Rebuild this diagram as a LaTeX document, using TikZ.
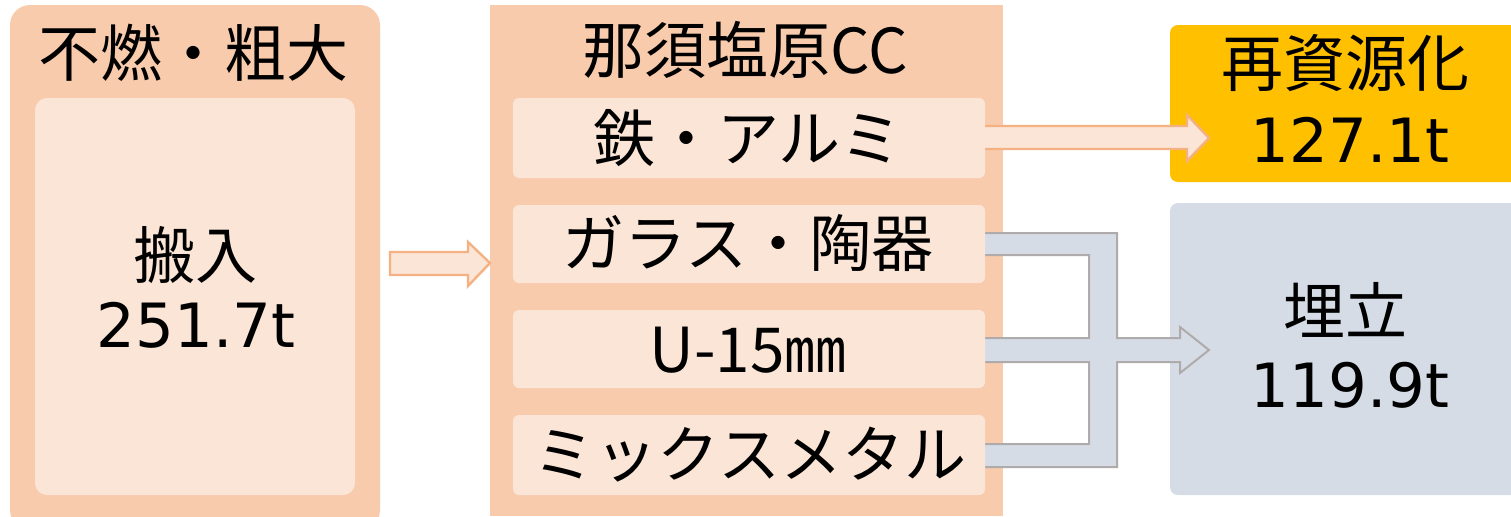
\documentclass[tikz,border=0pt]{standalone}
\usepackage{fontspec}
\newfontfamily\jp{Noto Sans CJK JP}
\newfontfamily\lat{DejaVu Sans}
\usetikzlibrary{calc}
\definecolor{outerc}{HTML}{F8CBAD}
\definecolor{innerc}{HTML}{FBE5D6}
\definecolor{arrowline}{HTML}{F4B183}
\definecolor{goldc}{HTML}{FFC000}
\definecolor{bluegray}{HTML}{D6DCE5}
\definecolor{grayline}{HTML}{AFABAB}
\tikzset{
  txt/.style={inner sep=0pt, font=\fontsize{31pt}{36pt}\selectfont\jp, text=black},
  num/.style={inner sep=0pt, font=\fontsize{30.5pt}{36pt}\selectfont\lat, text=black},
  rowbox/.style={fill=innerc, draw=none, rounded corners=3pt},
  orangearrow/.style={fill=innerc, draw=arrowline, line width=1.2pt, line join=miter},
  grayarrow/.style={fill=bluegray, draw=grayline, line width=1pt, line join=miter},
}
\begin{document}
\begin{tikzpicture}[x=0.5pt,y=-0.5pt]
\useasboundingbox (0,0) rectangle (1511,516);
\begin{scope}
\clip (0,0) rectangle (1511,516);
% left block
\fill[outerc, rounded corners=10pt] (10,5) rectangle (380,530);
\end{scope}
\fill[innerc, rounded corners=6pt] (35,98) rectangle (355,495);
\node[txt] (t1) at (194,53) {不燃・粗大};
\node[txt] (t2) at (195,255) {搬入};
\node[num] (t3) at (196,325) {251.7t};
% middle block
\fill[outerc] (490,5) rectangle (1003,516);
\node[txt] (t4) at (745,50) {那須塩原CC};
% right blocks
\fill[goldc, rounded corners=4pt] (1170,25) rectangle (1520,182);
\node[txt] (g1) at (1345,63) {再資源化};
\node[num] (g2) at (1350,140) {127.1t};
\fill[bluegray, rounded corners=4pt] (1170,203) rectangle (1520,495);
\node[txt] (b1) at (1345,310) {埋立};
\node[num] (b2) at (1350,385) {119.9t};
% arrow left -> middle
\draw[orangearrow] (390,252) -- (468,252) -- (468,242) -- (490,263) -- (468,286) -- (468,275) -- (390,275) -- cycle;
% top arrow
\draw[orangearrow] (975,126) -- (1187,126) -- (1187,115) -- (1209,138) -- (1187,161) -- (1187,149) -- (975,149) -- cycle;
% merged gray arrow
\draw[grayarrow] (975,233) -- (1117,233) -- (1117,338) -- (1180,338) -- (1180,327) -- (1209,350) -- (1180,373) -- (1180,362) -- (1117,362) -- (1117,467) -- (975,467) -- (975,444) -- (1089,444) -- (1089,362) -- (975,362) -- (975,338) -- (1089,338) -- (1089,255) -- (975,255) -- cycle;
% rows
\fill[rowbox] (513,98) rectangle (985,178);
\fill[rowbox] (513,205) rectangle (985,283);
\fill[rowbox] (513,310) rectangle (985,388);
\fill[rowbox] (513,415) rectangle (985,495);
\node[txt] (r1) at (748,138) {鉄・アルミ};
\node[txt] (r2) at (748,243) {ガラス・陶器};
\node[txt] (r3) at (748,350) {U-15㎜};
\node[txt] (r4) at (750,455) {ミックスメタル};
\end{tikzpicture}
\end{document}
